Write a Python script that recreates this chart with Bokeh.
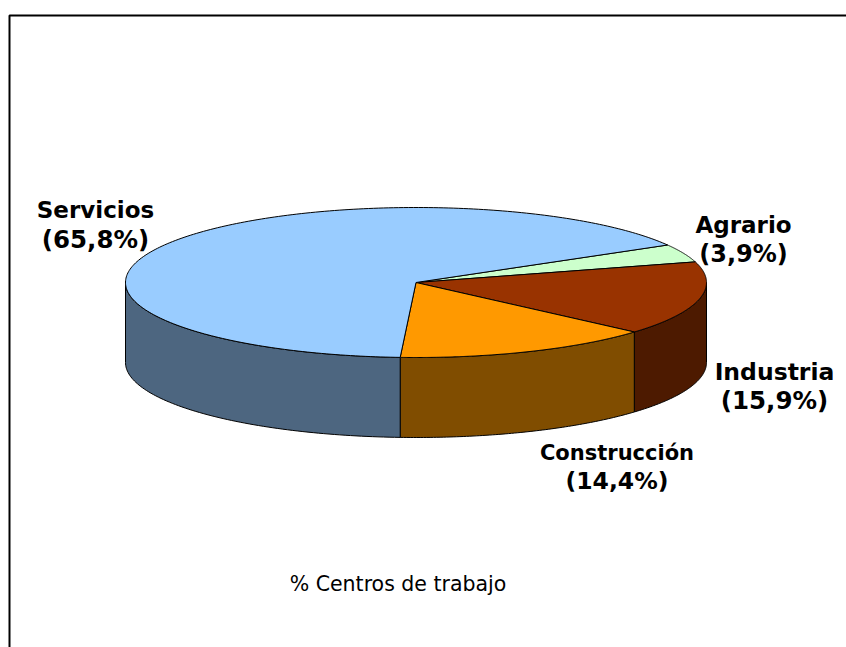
import numpy as np
from bokeh.plotting import figure
from bokeh.embed import file_html
from bokeh.resources import INLINE
from bokeh.core.properties import value

# Data
categories = ["Agrario", "Industria", "Construcción", "Servicios"]
shares = [3.9, 15.9, 14.4, 65.8]
value_labels = ["(3,9%)", "(15,9%)", "(14,4%)", "(65,8%)"]
top_colors = ["#CCFFCC", "#993300", "#FF9900", "#99CCFF"]
side_colors = ["#668066", "#4D1A00", "#804D00", "#4D6680"]
caption = "% Centros de trabajo"

# Label layout (page pixels)
label_x = [743, 774, 616.5, 95]
name_y = [224, 371, 452, 209.5]
share_y = [253, 400, 480, 239]
name_size = ["23px", "23.5px", "21px", "23px"]
share_size = ["24px", "24.5px", "23.5px", "24.5px"]

# Geometry of the pie
CX, CY, RX, RY, DEPTH = 415.5, 282.0, 290.5, 75.0, 80.0
START = 30.0


def ex(t):
    return CX + RX * np.cos(np.radians(t))


def ey(t):
    return CY - RY * np.sin(np.radians(t))


p = figure(width=846, height=647, x_range=(0, 846), y_range=(647, 0),
           toolbar_location=None, output_backend="svg", min_border=0,
           outline_line_color=None, background_fill_color="white")
p.axis.visible = False
p.grid.visible = False

# outer frame, running off the page to the right and bottom
p.line([9, 9, 900], [700, 15, 15], line_color="black", line_width=2)

edges = START - np.cumsum([0.0] + shares) * 3.6

# side walls (only the front half of the rim is visible)
for i in range(len(shares)):
    a, b = edges[i], edges[i + 1]
    lo, hi = max(b, -180.0), min(a, 0.0)
    if hi <= lo:
        continue
    t = np.linspace(hi, lo, 80)
    xs = np.concatenate([ex(t), ex(t[::-1])])
    ys = np.concatenate([ey(t), ey(t[::-1]) + DEPTH])
    p.patch(xs, ys, fill_color=side_colors[i], line_color="black", line_width=1)

# top faces
for i in range(len(shares)):
    t = np.linspace(edges[i], edges[i + 1], 240)
    xs = np.concatenate([[CX], ex(t)])
    ys = np.concatenate([[CY], ey(t)])
    p.patch(xs, ys, fill_color=top_colors[i], line_color="black", line_width=1)

# labels
for i in range(len(categories)):
    p.text([label_x[i]], [name_y[i]], text=[categories[i]], text_align="center",
           text_baseline="middle", text_font=value("DejaVu Sans"),
           text_font_style="bold", text_font_size=name_size[i], text_color="black")
    p.text([label_x[i]], [share_y[i]], text=[value_labels[i]], text_align="center",
           text_baseline="middle", text_font=value("DejaVu Sans"),
           text_font_style="bold", text_font_size=share_size[i], text_color="black")

p.text([397.5], [583], text=[caption], text_align="center", text_baseline="middle",
       text_font=value("DejaVu Sans"), text_font_size="20.5px", text_color="black")

open("out.html", "w").write(file_html(p, INLINE))
